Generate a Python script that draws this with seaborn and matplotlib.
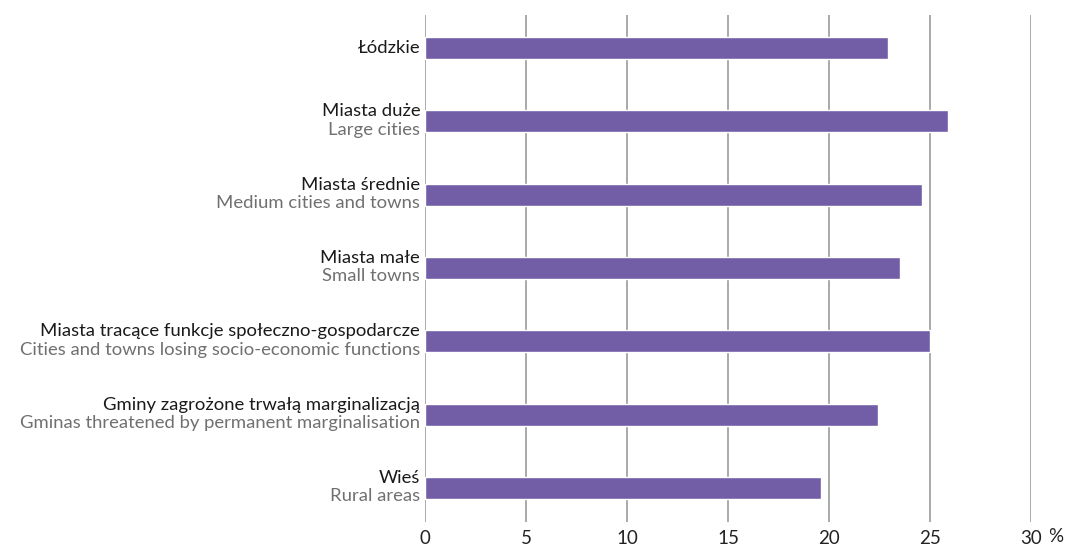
import matplotlib
matplotlib.use("Agg")
from matplotlib import pyplot as plt
import seaborn as sns
import pandas as pd

# categories (Polish / English) and values in %
names_pl = ["Łódzkie", "Miasta duże", "Miasta średnie", "Miasta małe",
            "Miasta tracące funkcje społeczno-gospodarcze",
            "Gminy zagrożone trwałą marginalizacją", "Wieś"]
names_en = ["", "Large cities", "Medium cities and towns", "Small towns",
            "Cities and towns losing socio-economic functions",
            "Gminas threatened by permanent marginalisation", "Rural areas"]
values = [22.9, 25.9, 24.6, 23.5, 25.0, 22.4, 19.6]
x_ticks = [0, 5, 10, 15, 20, 25, 30]

BAR = "#725EA7"
GRID = "#A3A3A3"
FONT = ["Lato", "DejaVu Sans"]
FS = 13.3

sns.set_theme(style="white")
plt.rcParams["font.family"] = FONT

df = pd.DataFrame({"name": names_pl, "value": values})

fig = plt.figure(figsize=(10.66, 5.47), dpi=100)
ax = fig.add_axes([0.3987, 0.046, 0.5685, 0.927])

sns.barplot(data=df, x="value", y="name", orient="h", color=BAR,
            saturation=1, width=0.3, ax=ax, zorder=3)

ax.set_xlim(0, 30)
ax.set_ylim(len(names_pl) - 0.54, -0.45)
ax.set_xticks(x_ticks)
ax.set_xticklabels([str(t) for t in x_ticks], fontsize=13.5, color="#222222")
ax.set_yticks([])
ax.set_xlabel("")
ax.set_ylabel("")
for s in ax.spines.values():
    s.set_visible(False)
ax.grid(axis="x", color=GRID, linewidth=1.3, zorder=0)
ax.tick_params(axis="x", length=0, pad=6)

tr = ax.get_yaxis_transform()
for i, (pl, en) in enumerate(zip(names_pl, names_en)):
    if en:
        ax.annotate(pl, (-0.008, i), xycoords=tr, xytext=(0, 7.2),
                    textcoords="offset points", ha="right", va="center",
                    fontsize=FS, color="#1A1A1A")
        ax.annotate(en, (-0.008, i), xycoords=tr, xytext=(0, -6.0),
                    textcoords="offset points", ha="right", va="center",
                    fontsize=FS, color="#707070")
    else:
        ax.annotate(pl, (-0.008, i), xycoords=tr, xytext=(0, 0),
                    textcoords="offset points", ha="right", va="center",
                    fontsize=FS, color="#1A1A1A")

ax.text(1.04, -0.012, "%", transform=ax.transAxes, ha="center", va="top",
        fontsize=13.5, color="#222222")

fig.savefig("out.png", dpi=100)
